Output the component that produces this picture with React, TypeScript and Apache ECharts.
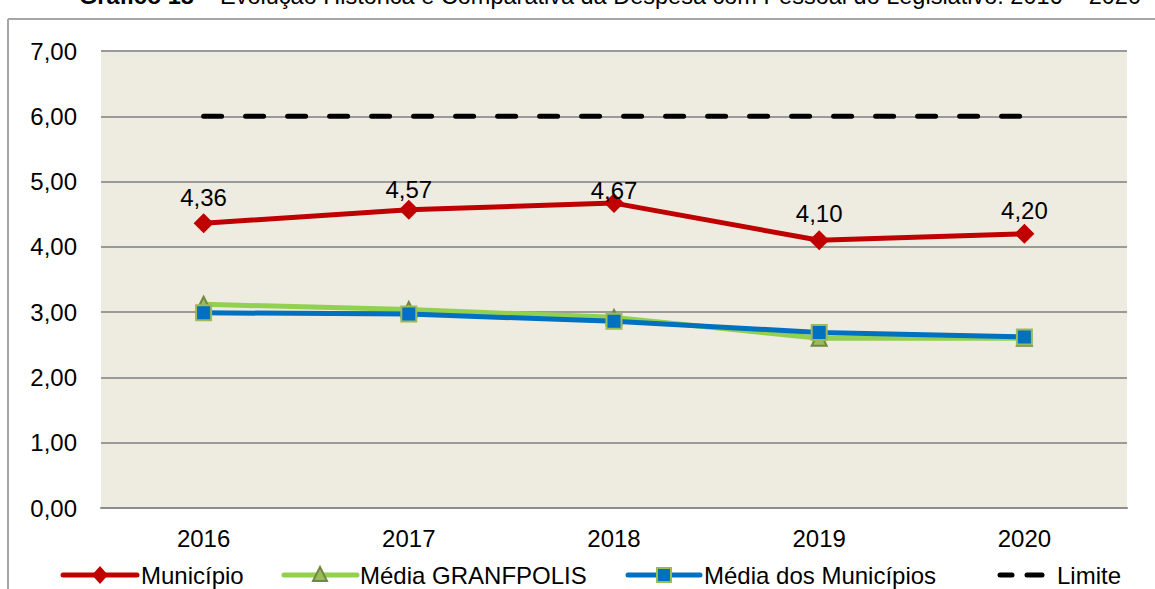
import React, { useEffect, useRef } from "react";
import * as echarts from "echarts";

const categories = ["2016", "2017", "2018", "2019", "2020"];
const municipio = [4.36, 4.57, 4.67, 4.1, 4.2];
const mediaGranfpolis = [3.12, 3.04, 2.92, 2.6, 2.6];
const mediaMunicipios = [2.99, 2.97, 2.86, 2.69, 2.62];
const limite = [6, 6, 6, 6, 6];
const legendNames = ["Município", "Média GRANFPOLIS", "Média dos Municípios", "Limite"];

// label vertical nudges (px, styling only)
const labelNudge = [3, 9, 16, 2, 6];

const FONT = "'Liberation Sans', Arial, sans-serif";
const fmt = (v: number) => v.toFixed(2).replace(".", ",");

const RED = "#c00000";
const GREEN = "#92d050";
const BLUE = "#0070c0";

export default function App() {
  const ref = useRef<HTMLDivElement>(null);
  useEffect(() => {
    if (!ref.current) return;
    const chart = echarts.init(ref.current, undefined, { renderer: "svg" });
    const ly = 575;
    const legendText = (x: number, t: string) => ({
      type: "text",
      x,
      y: ly,
      style: {
        text: t,
        fontFamily: FONT,
        fontSize: 24,
        fill: "#000",
        align: "left",
        verticalAlign: "middle",
      },
    });
    const hline = (x1: number, x2: number, color: string, cap = "butt") => ({
      type: "line",
      shape: { x1, y1: ly, x2, y2: ly },
      style: { stroke: color, lineWidth: 5, lineCap: cap },
    });
    chart.setOption({
      animation: false,
      backgroundColor: "#ffffff",
      textStyle: { fontFamily: FONT },
      graphic: [
        {
          type: "line",
          shape: { x1: 8, y1: 19, x2: 1155, y2: 19 },
          style: { stroke: "#a6a6a6", lineWidth: 2 },
        },
        {
          type: "line",
          shape: { x1: 8, y1: 19, x2: 8, y2: 589 },
          style: { stroke: "#a6a6a6", lineWidth: 2 },
        },
        {
          type: "text",
          x: 610,
          y: 8,
          style: {
            text: "{b|Gráfico 18} – Evolução Histórica e Comparativa da Despesa com Pessoal do Legislativo: 2016 – 2020",
            fontFamily: FONT,
            fontSize: 23.5,
            fill: "#000",
            align: "center",
            verticalAlign: "bottom",
            rich: { b: { fontWeight: "bold", fontSize: 23.5, fontFamily: FONT } },
          },
        },
        // legend: Município
        hline(63, 137, RED, "round"),
        {
          type: "polygon",
          shape: { points: [[100, ly - 9], [108, ly], [100, ly + 9], [92, ly]] },
          style: { fill: RED },
        },
        legendText(141, legendNames[0]),
        // legend: Média GRANFPOLIS
        hline(284, 357, GREEN, "round"),
        {
          type: "polygon",
          shape: { points: [[320, ly - 8], [327, ly + 6], [313, ly + 6]] },
          style: { fill: "#9bbb59", stroke: "#71893f", lineWidth: 2 },
        },
        legendText(360, legendNames[1]),
        // legend: Média dos Municípios
        hline(628, 700, BLUE, "round"),
        {
          type: "rect",
          shape: { x: 657, y: ly - 7, width: 14, height: 14 },
          style: { fill: BLUE, stroke: "#9bbb59", lineWidth: 2 },
        },
        legendText(704, legendNames[2]),
        // legend: Limite
        hline(1000, 1012, "#000", "round"),
        hline(1027, 1042, "#000", "round"),
        legendText(1057, legendNames[3]),
      ],
      grid: {
        left: 101,
        right: 28,
        top: 51,
        bottom: 81,
        show: true,
        backgroundColor: "#eeebe0",
        borderWidth: 0,
      },
      xAxis: {
        type: "category",
        data: categories,
        boundaryGap: true,
        axisLine: { show: true, lineStyle: { color: "#8c8c8c", width: 2 } },
        axisTick: { show: false },
        axisLabel: { fontSize: 24, color: "#000", margin: 18, fontFamily: FONT },
      },
      yAxis: {
        type: "value",
        min: 0,
        max: 7,
        interval: 1,
        axisLine: { show: false },
        axisTick: { show: false },
        splitLine: { lineStyle: { color: "#9a9a9a", width: 2 } },
        axisLabel: {
          fontSize: 24,
          color: "#000",
          margin: 24,
          fontFamily: FONT,
          formatter: (v: number) => fmt(v),
        },
      },
      series: [
        {
          name: "Limite",
          type: "line",
          data: limite,
          symbol: "none",
          lineStyle: { color: "#000", width: 5, type: [18, 24], cap: "round" },
          itemStyle: { color: "#000" },
          z: 2,
        },
        {
          name: "Média GRANFPOLIS",
          type: "line",
          data: mediaGranfpolis,
          symbol: "triangle",
          symbolSize: 15,
          lineStyle: { color: GREEN, width: 5 },
          itemStyle: { color: "#9bbb59", borderColor: "#71893f", borderWidth: 2 },
          z: 3,
        },
        {
          name: "Média dos Municípios",
          type: "line",
          data: mediaMunicipios,
          symbol: "rect",
          symbolSize: 15,
          lineStyle: { color: BLUE, width: 5 },
          itemStyle: { color: BLUE, borderColor: "#9bbb59", borderWidth: 2 },
          z: 4,
        },
        {
          name: "Município",
          type: "line",
          data: municipio.map((v, i) => ({
            value: v,
            label: { offset: [0, labelNudge[i]] },
          })),
          symbol: "diamond",
          symbolSize: 20,
          lineStyle: { color: RED, width: 5 },
          itemStyle: { color: RED },
          label: {
            show: true,
            position: "top",
            distance: 7,
            fontSize: 24,
            color: "#000",
            fontFamily: FONT,
            formatter: (p: any) => fmt(p.value),
          },
          z: 5,
        },
      ],
    });
    return () => chart.dispose();
  }, []);
  return (
    <div
      ref={ref}
      style={{ position: "fixed", left: 0, top: 0, width: 1155, height: 589 }}
    />
  );
}
